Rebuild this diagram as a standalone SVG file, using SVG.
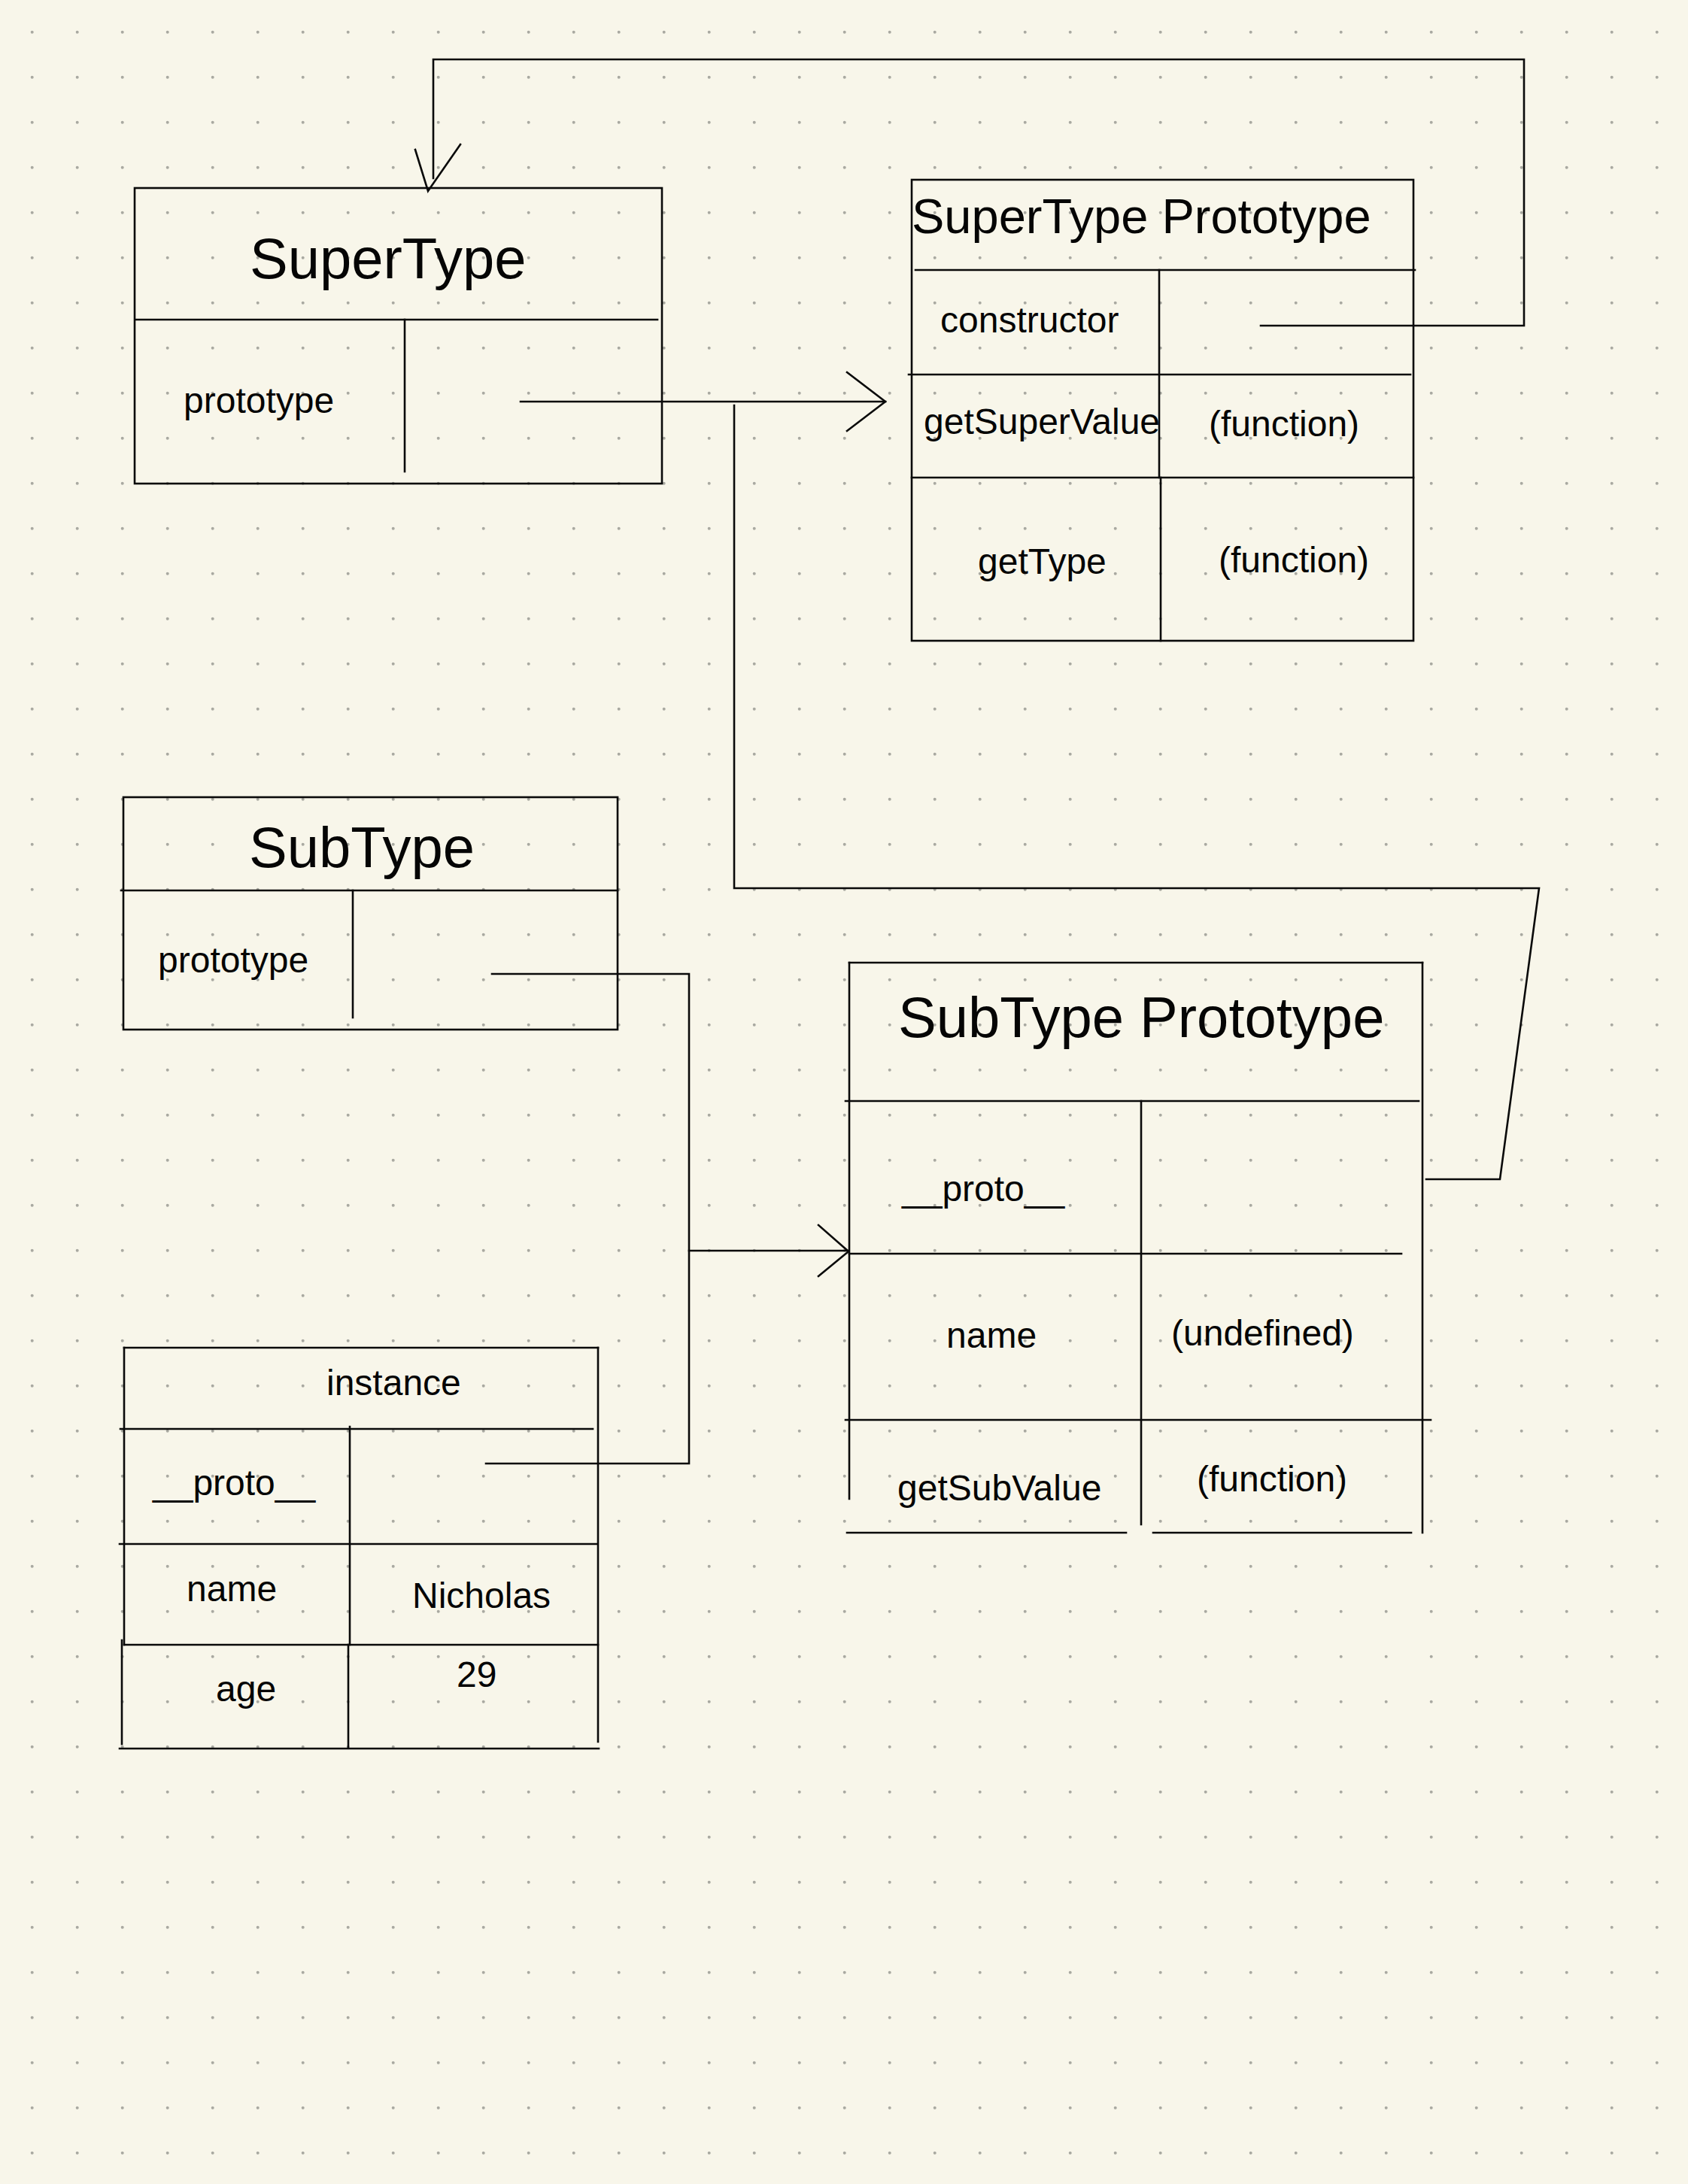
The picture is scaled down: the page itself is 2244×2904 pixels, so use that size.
<svg xmlns="http://www.w3.org/2000/svg" width="2244" height="2904" viewBox="0 0 2244 2904">
<style>
.ln{stroke:#0a0a0a;stroke-width:2.6;fill:none;stroke-linecap:square}
.t{font-family:"Liberation Sans",Arial,Helvetica,sans-serif;fill:#050505;font-size:48px}
.h{font-size:76px}
.h2{font-size:65px}
</style>
<defs>
<pattern id="dots" x="0" y="0" width="60" height="60" patternUnits="userSpaceOnUse">
<circle cx="42.7" cy="42.7" r="2" fill="#a9a9a1"/>
</pattern>
</defs>
<rect width="2244" height="2904" fill="#f8f6ea"/>
<rect width="2244" height="2904" fill="url(#dots)"/>

<g id="connectors">
<polyline class="ln" points="692,534 1177,534"/>
<polyline class="ln" points="1126,495 1177,534 1126,573"/>
<polyline class="ln" points="1676,433 2026,433 2026,79 576,79 576,237"/>
<polyline class="ln" points="552,199 569,254 612,192"/>
<polyline class="ln" points="654,1295 916,1295 916,1946 646,1946"/>
<polyline class="ln" points="916,1663 1128,1663"/>
<polyline class="ln" points="1088,1629 1128,1664 1088,1697"/>
<polyline class="ln" points="1896,1568 1994,1568 2046,1181 976,1181 976,539"/>
</g>

<g id="supertype">
<rect class="ln" x="179" y="250" width="701" height="393"/>
<line class="ln" x1="181" y1="425" x2="874" y2="425"/>
<line class="ln" x1="538" y1="425" x2="538" y2="627"/>
<text class="t h" x="332" y="370">SuperType</text>
<text class="t" x="244" y="549">prototype</text>
</g>

<g id="supertype-prototype">
<rect class="ln" x="1212" y="239" width="667" height="613"/>
<line class="ln" x1="1217" y1="359" x2="1881" y2="359"/>
<line class="ln" x1="1208" y1="498" x2="1875" y2="498"/>
<line class="ln" x1="1212" y1="635" x2="1879" y2="635"/>
<line class="ln" x1="1541" y1="359" x2="1541" y2="635"/>
<line class="ln" x1="1543" y1="635" x2="1543" y2="852"/>
<text class="t h2" x="1212" y="310">SuperType Prototype</text>
<text class="t" x="1250" y="442">constructor</text>
<text class="t" x="1228" y="577">getSuperValue</text>
<text class="t" x="1607" y="580">(function)</text>
<text class="t" x="1300" y="763">getType</text>
<text class="t" x="1620" y="761">(function)</text>
</g>

<g id="subtype">
<rect class="ln" x="164" y="1060" width="657" height="309"/>
<line class="ln" x1="161" y1="1184" x2="821" y2="1184"/>
<line class="ln" x1="469" y1="1184" x2="469" y2="1353"/>
<text class="t h" x="331" y="1153">SubType</text>
<text class="t" x="210" y="1293">prototype</text>
</g>

<g id="subtype-prototype">
<line class="ln" x1="1129" y1="1280" x2="1891" y2="1280"/>
<line class="ln" x1="1129" y1="1280" x2="1129" y2="1993"/>
<line class="ln" x1="1891" y1="1280" x2="1891" y2="2038"/>
<line class="ln" x1="1124" y1="1464" x2="1886" y2="1464"/>
<line class="ln" x1="1517" y1="1464" x2="1517" y2="2027"/>
<line class="ln" x1="1129" y1="1667" x2="1863" y2="1667"/>
<line class="ln" x1="1124" y1="1888" x2="1902" y2="1888"/>
<line class="ln" x1="1126" y1="2038" x2="1497" y2="2038"/>
<line class="ln" x1="1533" y1="2038" x2="1876" y2="2038"/>
<text class="t h" x="1194" y="1379">SubType Prototype</text>
<text class="t" x="1199" y="1597">__proto__</text>
<text class="t" x="1258" y="1792">name</text>
<text class="t" x="1557" y="1789">(undefined)</text>
<text class="t" x="1193" y="1995">getSubValue</text>
<text class="t" x="1591" y="1983">(function)</text>
</g>

<g id="instance">
<line class="ln" x1="165" y1="1792" x2="795" y2="1792"/>
<line class="ln" x1="165" y1="1792" x2="165" y2="2187"/>
<line class="ln" x1="162" y1="2181" x2="162" y2="2319"/>
<line class="ln" x1="795" y1="1792" x2="795" y2="2316"/>
<line class="ln" x1="160" y1="1900" x2="788" y2="1900"/>
<line class="ln" x1="465" y1="1897" x2="465" y2="2187"/>
<line class="ln" x1="463" y1="2187" x2="463" y2="2324"/>
<line class="ln" x1="159" y1="2053" x2="793" y2="2053"/>
<line class="ln" x1="165" y1="2187" x2="795" y2="2187"/>
<line class="ln" x1="159" y1="2325" x2="796" y2="2325"/>
<text class="t" x="434" y="1855">instance</text>
<text class="t" x="203" y="1988">__proto__</text>
<text class="t" x="248" y="2129">name</text>
<text class="t" x="548" y="2138">Nicholas</text>
<text class="t" x="287" y="2262">age</text>
<text class="t" x="607" y="2243">29</text>
</g>
</svg>
